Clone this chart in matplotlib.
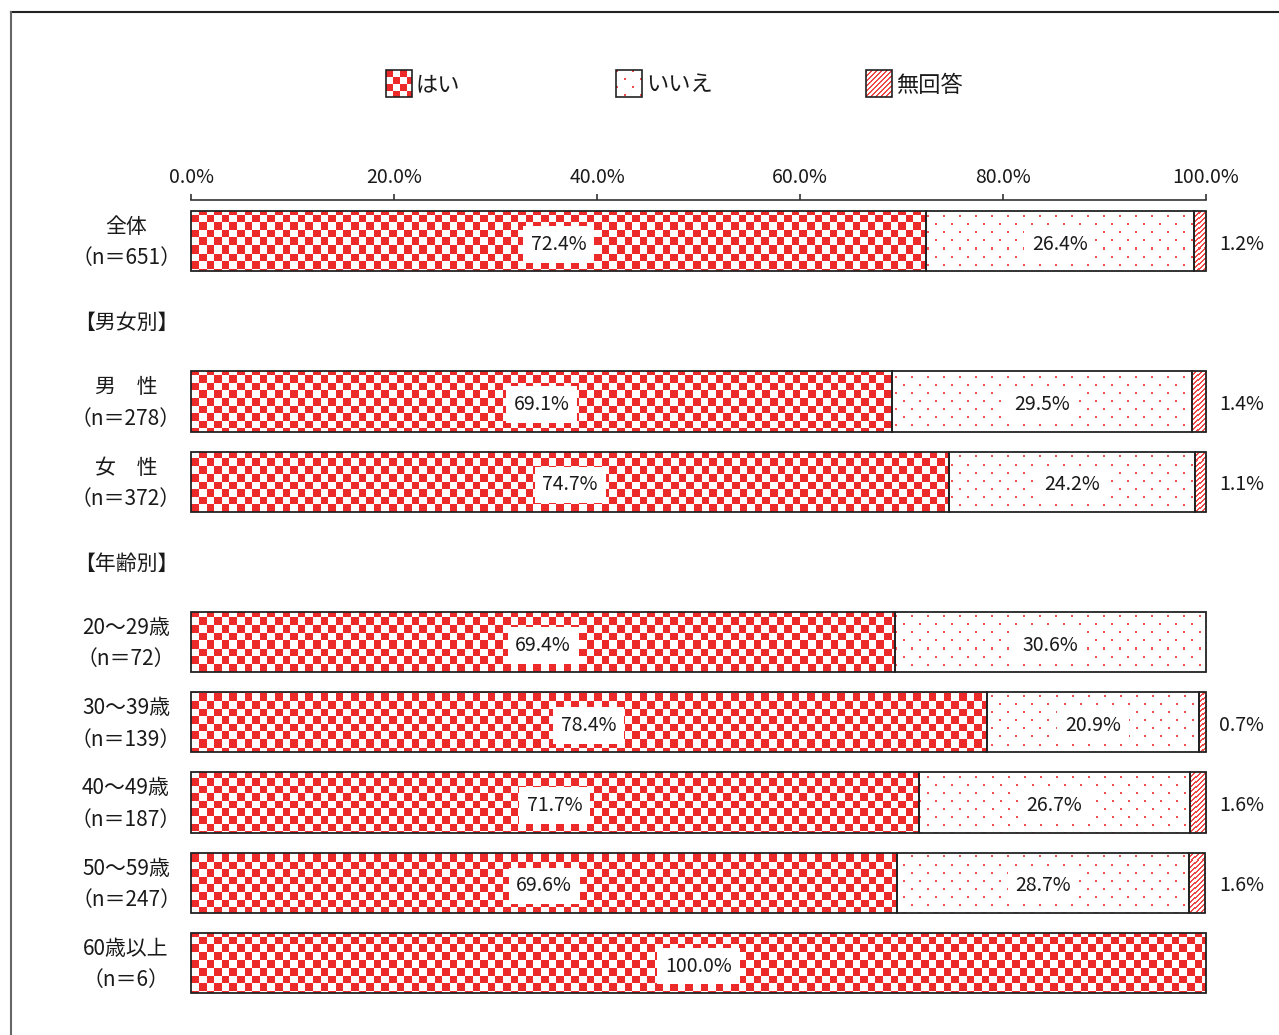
import numpy as np
import matplotlib.pyplot as plt
from matplotlib.patches import Rectangle
from matplotlib.lines import Line2D

plt.rcParams['font.family'] = ['Noto Sans CJK JP', 'DejaVu Sans']

# データ
row_labels = ["全体\n（n＝651）", "【男女別】", "男　性\n（n＝278）", "女　性\n（n＝372）", "【年齢別】",
              "20～29歳\n（n＝72）", "30～39歳\n（n＝139）", "40～49歳\n（n＝187）",
              "50～59歳\n（n＝247）", "60歳以上\n（n＝6）"]
is_header = [False, True, False, False, True, False, False, False, False, False]
hai = [72.4, 0, 69.1, 74.7, 0, 69.4, 78.4, 71.7, 69.6, 100.0]
iie = [26.4, 0, 29.5, 24.2, 0, 30.6, 20.9, 26.7, 28.7, 0.0]
mukaitou = [1.2, 0, 1.4, 1.1, 0, 0.0, 0.7, 1.6, 1.6, 0.0]
series_names = ["はい", "いいえ", "無回答"]
xticks = [0, 20, 40, 60, 80, 100]

RED = (237, 42, 42)
DOT = (242, 80, 80)
STRIPE = (240, 70, 70)
EDGE = "#222222"

# 図のサイズ (px)
FW, FH = 1279, 1035
fig = plt.figure(figsize=(FW / 100, FH / 100), dpi=100)
AX_L, AX_T, AX_W, AX_H = 191, 200, 1015, 810
ax = fig.add_axes([AX_L / FW, (FH - AX_T - AX_H) / FH, AX_W / FW, AX_H / FH])


# 🎨 模様の画像
def make_pattern(kind, w, h, cell=7.6):
    yy, xx = np.mgrid[0:h, 0:w]
    img = np.full((h, w, 3), 255, np.uint8)
    if kind == "checker":
        m = ((xx // cell).astype(int) + (yy // cell).astype(int)) % 2 == 0
        img[m] = RED
    elif kind == "dots":
        m = ((xx % 16 < 2) & (yy % 16 < 2)) | (((xx + 8) % 16 < 2) & ((yy + 8) % 16 < 2))
        img[m] = DOT
    else:
        m = (xx + yy) % 5 < 2
        img[m] = STRIPE
    return img


patterns = {k: make_pattern(k, AX_W, AX_H) for k in ["checker", "dots", "stripes"]}

ymin, ymax = 9.5875, -0.5125
extent = (0, 100, ymin, ymax)
bar_h = 0.75

rows = np.arange(len(row_labels))
left = np.zeros(len(rows))
for vals, kind in zip([hai, iie, mukaitou], ["checker", "dots", "stripes"]):
    vals = np.array(vals)
    for i in rows:
        if is_header[i] or vals[i] <= 0:
            continue
        bar = ax.barh(i, vals[i], left=left[i], height=bar_h, facecolor="none",
                      edgecolor=EDGE, linewidth=1.3, zorder=3)[0]
        bar.set_clip_on(False)
        im = ax.imshow(patterns[kind], extent=extent, origin="upper",
                       interpolation="nearest", aspect="auto", zorder=1)
        im.set_clip_path(bar)
    left = left + vals

# 📝 ラベル
box = dict(boxstyle="square,pad=0.4", fc="white", ec="none")
for i in rows:
    if is_header[i]:
        continue
    yl = i + 0.04
    if hai[i] > 0:
        ax.text(hai[i] / 2, yl, f"{hai[i]:.1f}%", ha="center", va="center",
                fontsize=14, color="#1a1a1a", bbox=box, zorder=4)
    if iie[i] > 0:
        ax.text(hai[i] + iie[i] / 2, yl, f"{iie[i]:.1f}%", ha="center", va="center",
                fontsize=14, color="#1a1a1a", bbox=box, zorder=4)
    if mukaitou[i] > 0:
        ax.text(103.5, yl, f"{mukaitou[i]:.1f}%", ha="center", va="center",
                fontsize=14, color="#1a1a1a", zorder=4, clip_on=False)

for i, lab in enumerate(row_labels):
    ax.text(-6.4, i + 0.02, lab, ha="center", va="center", multialignment="center",
            fontsize=15, color="#1a1a1a", linespacing=1.55, clip_on=False)

ax.set_xlim(0, 100)
ax.set_ylim(ymin, ymax)
ax.xaxis.tick_top()
ax.set_xticks(xticks)
ax.set_xticklabels([f"{v:.1f}%" for v in xticks])
ax.tick_params(axis="x", direction="out", length=4.5, width=1.2, color="#333",
               labelsize=14, labelcolor="#1a1a1a", pad=4)
ax.set_yticks([])
for s in ["bottom", "left", "right"]:
    ax.spines[s].set_visible(False)
ax.spines["top"].set_color("#333")
ax.spines["top"].set_linewidth(1.2)

# 🔲 凡例
lax = fig.add_axes([0, 0, 1, 1], zorder=5)
lax.set_xlim(0, FW)
lax.set_ylim(FH, 0)
lax.axis("off")
leg_x = [386, 616, 866]
for x0, name, kind in zip(leg_x, series_names, ["checker", "dots", "stripes"]):
    r = Rectangle((x0, 70), 26, 27, facecolor="none", edgecolor=EDGE, linewidth=1.2, zorder=3)
    lax.add_patch(r)
    im = lax.imshow(make_pattern(kind, 26, 27, cell=6.7), extent=(x0, x0 + 26, 97, 70),
                    origin="upper", interpolation="nearest", aspect="auto", zorder=1)
    im.set_clip_path(r)
    lax.text(x0 + 30, 85, name, ha="left", va="center", fontsize=16, color="#1a1a1a")
lax.set_xlim(0, FW)
lax.set_ylim(FH, 0)

# 枠線
fig.add_artist(Line2D([11 / FW, 1], [1 - 12 / FH, 1 - 12 / FH], color="#222", linewidth=1.5,
                      transform=fig.transFigure))
fig.add_artist(Line2D([11 / FW, 11 / FW], [0, 1 - 12 / FH], color="#666", linewidth=1.5,
                      transform=fig.transFigure))

fig.savefig("out.png", dpi=100)
